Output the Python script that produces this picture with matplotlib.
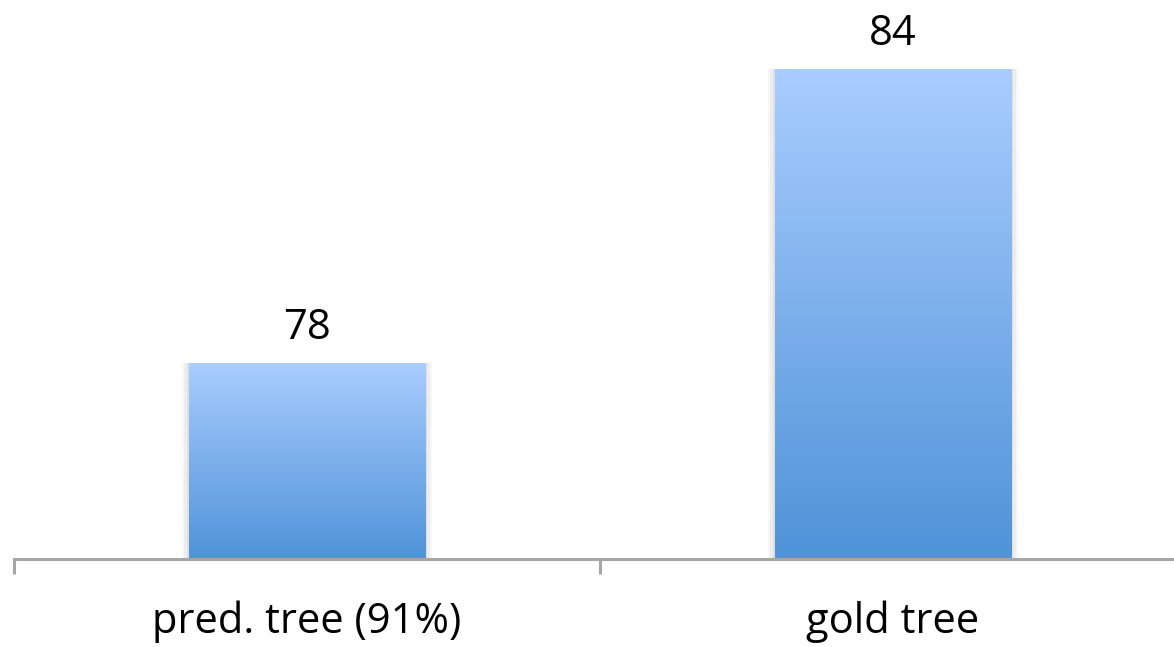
import numpy as np
import matplotlib
matplotlib.use("Agg")
import matplotlib.pyplot as plt
from matplotlib.colors import LinearSegmentedColormap

categories = ["pred. tree (91%)", "gold tree"]
values = [78, 84]

W, H = 1174, 647
fig = plt.figure(figsize=(W / 100, H / 100), dpi=100)
ax = fig.add_axes([14 / W, 88 / H, 1172 / W, 559 / H])
ymin = 74
ppu = 49  # pixels per unit

cmap = LinearSegmentedColormap.from_list("g", ["#4F93D8", "#A9CDFF"])
grad = np.linspace(0, 1, 256).reshape(-1, 1)
bw = 0.403
x = np.arange(len(categories))
font = ["Open Sans", "DejaVu Sans"]
for xi, v in zip(x, values):
    for k, a in enumerate([0.05, 0.04, 0.03]):
        d = 0.004 * (k + 1)
        ax.bar(xi, v - ymin, bottom=ymin, width=bw + 2 * d, color="#000000",
               alpha=a, linewidth=0, zorder=1)
    ax.imshow(grad, cmap=cmap, origin="lower", aspect="auto",
              extent=(xi - bw / 2, xi + bw / 2, ymin, v), zorder=2)
    ax.text(xi, v + 24 / ppu, f"{v}", ha="center", va="baseline",
            fontsize=30, family=font, color="#000000")

ax.set_xlim(-0.5, 1.5)
ax.set_ylim(ymin, ymin + 559 / ppu)
for s in ["top", "right", "left"]:
    ax.spines[s].set_visible(False)
ax.spines["bottom"].set_color("#A6A6A6")
ax.spines["bottom"].set_linewidth(2.2)
ax.set_yticks([])
ax.set_xticks([-0.5, 0.5, 1.5])
ax.set_xticklabels([])
ax.tick_params(axis="x", length=11, width=2.2, color="#A6A6A6", direction="out")
for xi, c in zip(x, categories):
    ax.annotate(c, xy=(xi, 0), xycoords=("data", "axes fraction"),
                xytext=(0, -74 * 0.72), textcoords="offset points",
                ha="center", va="baseline", fontsize=30, family=font)

fig.savefig("out.png", dpi=100)
